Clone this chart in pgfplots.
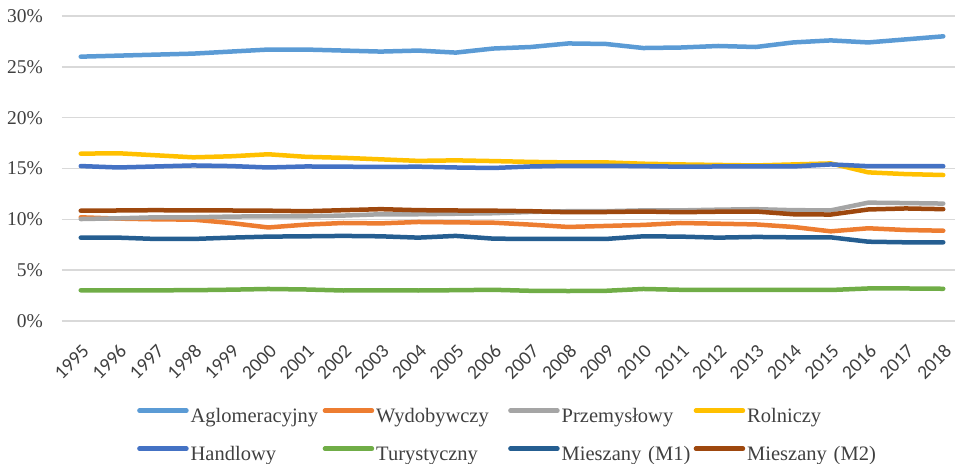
\documentclass[border=0pt]{standalone}
\usepackage{pgfplots}
\usepackage{pgfplotstable}
\pgfplotsset{compat=1.18}
\usepackage{fontspec}
\setmainfont{Liberation Serif}
\newfontfamily\carlito{Carlito}
\definecolor{cAgl}{HTML}{5B9BD5}
\definecolor{cWyd}{HTML}{ED7D31}
\definecolor{cPrz}{HTML}{A5A5A5}
\definecolor{cRol}{HTML}{FFC000}
\definecolor{cHan}{HTML}{4472C4}
\definecolor{cTur}{HTML}{70AD47}
\definecolor{cMa}{HTML}{255E91}
\definecolor{cMb}{HTML}{9E480E}
\definecolor{gridc}{HTML}{D9D9D9}
\definecolor{txt}{HTML}{404040}
\pgfplotstableread{
year Agl Wyd Prz Rol Han Tur Ma Mb
1995 26.0 10.2 10.03 16.46 15.24 3.02 8.2 10.85
1996 26.1 10.07 10.1 16.5 15.1 3.02 8.2 10.87
1997 26.2 10.0 10.2 16.3 15.2 3.02 8.07 10.9
1998 26.3 9.97 10.2 16.1 15.3 3.03 8.07 10.87
1999 26.5 9.64 10.27 16.2 15.24 3.08 8.2 10.87
2000 26.7 9.2 10.3 16.4 15.1 3.15 8.3 10.85
2001 26.7 9.48 10.3 16.15 15.2 3.1 8.33 10.8
2002 26.6 9.64 10.37 16.05 15.18 3.0 8.37 10.9
2003 26.5 9.6 10.5 15.9 15.15 3.02 8.33 11.0
2004 26.6 9.74 10.5 15.75 15.18 3.0 8.2 10.9
2005 26.4 9.7 10.55 15.8 15.1 3.03 8.37 10.87
2006 26.8 9.67 10.6 15.73 15.05 3.07 8.1 10.85
2007 26.95 9.48 10.73 15.65 15.2 2.97 8.07 10.8
2008 27.3 9.25 10.8 15.6 15.27 2.95 8.07 10.7
2009 27.25 9.35 10.8 15.6 15.27 2.97 8.07 10.72
2010 26.85 9.45 10.88 15.47 15.23 3.15 8.33 10.77
2011 26.9 9.64 10.88 15.4 15.18 3.07 8.3 10.7
2012 27.05 9.57 10.95 15.35 15.2 3.05 8.2 10.75
2013 26.95 9.5 11.0 15.3 15.2 3.07 8.27 10.77
2014 27.4 9.25 10.9 15.4 15.2 3.05 8.23 10.5
2015 27.6 8.82 10.88 15.5 15.4 3.05 8.23 10.47
2016 27.4 9.12 11.64 14.62 15.23 3.2 7.8 10.97
2017 27.7 8.95 11.6 14.45 15.23 3.2 7.74 11.07
2018 28.0 8.88 11.55 14.36 15.23 3.17 7.74 11.0
}\datatable
\begin{document}
\fontsize{19.5bp}{23bp}\selectfont
\begin{tikzpicture}
\begin{axis}[
  scale only axis, width=892.5bp, height=305bp,
  xmin=1994.5, xmax=2018.3, ymin=0, ymax=30,
  axis line style={draw=none},
  tick style={draw=none},
  ytick={0,5,...,30},
  ymajorgrids, grid style={color=gridc, line width=1.5bp},
  /pgf/number format/assume math mode=true,
  yticklabel={\pgfmathprintnumber{\tick}\%},
  yticklabel style={font=\fontsize{19.5bp}{23bp}\selectfont, text=txt, inner sep=0pt, anchor=east, xshift=-19bp},
  xtick={1995,...,2018},
  xticklabel style={font=\carlito\fontsize{19.5bp}{23bp}\selectfont, text=txt, inner sep=0pt, rotate=45, anchor=east, xshift=-15.5bp, yshift=-22.6bp, /pgf/number format/1000 sep={}},
  legend columns=4,
  legend style={draw=none, fill=none, at={(0,0)}, anchor=north west, xshift=75bp, yshift=-87bp,
    inner sep=0pt, row sep=20bp, column sep=0pt,
    nodes={inner xsep=2bp, inner ysep=0pt, text width=130bp, align=left, text height=14bp, text depth=4bp, text=txt, font=\fontsize{20.5bp}{23bp}\selectfont}},
  legend image code/.code={\draw[#1, line width=4.5bp, line cap=round] (0bp,6.5bp) -- (47bp,6.5bp);},
  every axis plot/.append style={line width=4.5bp, line cap=round, line join=round},
]
\addplot[cAgl] table[x=year,y=Agl]{\datatable};
\addplot[cWyd] table[x=year,y=Wyd]{\datatable};
\addplot[cPrz] table[x=year,y=Prz]{\datatable};
\addplot[cRol] table[x=year,y=Rol]{\datatable};
\addplot[cHan] table[x=year,y=Han]{\datatable};
\addplot[cTur] table[x=year,y=Tur]{\datatable};
\addplot[cMa] table[x=year,y=Ma]{\datatable};
\addplot[cMb] table[x=year,y=Mb]{\datatable};
\legend{Aglomeracyjny,Wydobywczy,Przemysłowy,Rolniczy,Handlowy,Turystyczny,Mieszany (M1),Mieszany (M2)}
\end{axis}
\pgfresetboundingbox
\path (current axis.south west) ++(-62bp,-143bp) rectangle ++(957bp,464bp);
\end{tikzpicture}
\end{document}
